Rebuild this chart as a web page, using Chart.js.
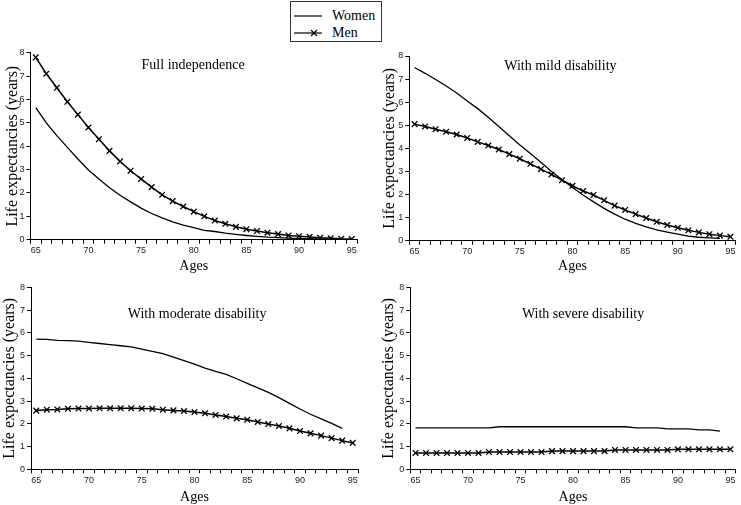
<!DOCTYPE html>
<html>
<head>
<meta charset="utf-8">
<script src="https://cdn.jsdelivr.net/npm/chart.js@4.4.1/dist/chart.umd.min.js"></script>
<style>
  html, body { margin: 0; padding: 0; background: #fff; overflow: hidden; }
  body { width: 741px; height: 505px; position: relative; }
  .panel { position: absolute; }
  #legend { position: absolute; left: 290px; top: 1px; width: 92px; height: 41px;
            border: 1px solid #333; box-sizing: border-box; background: #fff;
            font-family: 'Liberation Serif', 'Times New Roman', serif; font-size: 14px; color: #000; }
  #legend .row { position: absolute; left: 0; height: 16px; line-height: 16px; }
  #legend .lbl { position: absolute; left: 41px; top: 0; white-space: nowrap; }
  #legend svg { position: absolute; left: 3px; top: 0; }
</style>
</head>
<body>
<div id="legend">
  <div class="row" style="top:6px;"><svg width="30" height="16"><line x1="0" y1="8" x2="28" y2="8" stroke="#000" stroke-width="1.2"/></svg><span class="lbl">Women</span></div>
  <div class="row" style="top:23px;"><svg width="30" height="16"><line x1="0" y1="8" x2="28" y2="8" stroke="#000" stroke-width="1.2"/><line x1="17" y1="5" x2="23" y2="11" stroke="#000" stroke-width="1.2"/><line x1="17" y1="11" x2="23" y2="5" stroke="#000" stroke-width="1.2"/></svg><span class="lbl">Men</span></div>
</div>
<div class="panel" style="left:0px;top:40px;"><canvas id="c1" width="365" height="235"></canvas></div>
<div class="panel" style="left:372px;top:40px;"><canvas id="c2" width="369" height="235"></canvas></div>
<div class="panel" style="left:0px;top:275px;"><canvas id="c3" width="365" height="232"></canvas></div>
<div class="panel" style="left:372px;top:275px;"><canvas id="c4" width="369" height="232"></canvas></div>
<script>
// ---- data ----
const ages = [65,66,67,68,69,70,71,72,73,74,75,76,77,78,79,80,81,82,83,84,85,86,87,88,89,90,91,92,93,94,95];
const yTicks = [0,1,2,3,4,5,6,7,8];
const panelTitles = ['Full independence', 'With mild disability', 'With moderate disability', 'With severe disability'];
const seriesNames = ['Women', 'Men'];

const fullWomen = [5.65,5.0,4.45,3.95,3.45,2.98,2.6,2.22,1.9,1.62,1.35,1.12,0.93,0.76,0.62,0.52,0.4,0.35,0.28,0.23,0.18,0.14,0.11,0.09,0.07,0.05,0.04,0.03,0.02,0.02,null];
const fullMen   = [7.8,7.1,6.5,5.9,5.35,4.8,4.3,3.8,3.35,2.95,2.6,2.25,1.92,1.65,1.42,1.2,1.0,0.82,0.68,0.55,0.45,0.37,0.3,0.24,0.18,0.15,0.12,0.08,0.06,0.04,0.03];

const mildWomen = [7.5,7.25,6.98,6.7,6.4,6.05,5.72,5.35,4.95,4.55,4.15,3.78,3.4,3.0,2.65,2.3,1.98,1.68,1.4,1.15,0.93,0.75,0.6,0.47,0.37,0.28,0.2,0.15,0.12,0.1,null];
const mildMen   = [5.05,4.95,4.83,4.72,4.6,4.45,4.28,4.12,3.95,3.75,3.55,3.33,3.1,2.87,2.62,2.38,2.15,1.98,1.75,1.52,1.33,1.15,0.98,0.82,0.68,0.56,0.45,0.36,0.28,0.22,0.17];

const moderateWomen = [5.72,5.71,5.67,5.66,5.63,5.58,5.53,5.48,5.43,5.38,5.28,5.18,5.08,4.93,4.78,4.62,4.45,4.3,4.17,3.98,3.78,3.58,3.38,3.15,2.9,2.65,2.42,2.22,2.02,1.8,null];
const moderateMen   = [2.58,2.62,2.63,2.66,2.67,2.67,2.68,2.68,2.68,2.68,2.67,2.66,2.62,2.59,2.56,2.52,2.46,2.39,2.32,2.24,2.18,2.08,1.99,1.9,1.8,1.68,1.58,1.48,1.37,1.26,1.16];

const severeWomen = [1.82,1.82,1.82,1.82,1.82,1.82,1.82,1.82,1.87,1.87,1.87,1.87,1.87,1.87,1.87,1.87,1.87,1.87,1.87,1.87,1.87,1.82,1.82,1.82,1.78,1.78,1.78,1.73,1.73,1.68,null];
const severeMen   = [0.72,0.72,0.72,0.72,0.72,0.72,0.72,0.76,0.76,0.76,0.76,0.76,0.76,0.8,0.8,0.8,0.8,0.8,0.8,0.85,0.85,0.85,0.85,0.85,0.85,0.88,0.88,0.88,0.88,0.88,0.88];

// ---- layout per panel (canvas-relative) ----
const panels = [
  { id:'c1', women: fullWomen,     men: fullMen,     title: panelTitles[0], yW: 30.5, yTitlePad: 3.2, padTop: 12.7, padRight: 8, xH: 35.3, agesPad: 0.6, tFrac: 0.498, tDy: 12.3 },
  { id:'c2', women: mildWomen,     men: mildMen,     title: panelTitles[1], yW: 37.3, yTitlePad: 8.4, padTop: 16,   padRight: 4, xH: 34.3, agesPad: 0.6, tFrac: 0.463, tDy: 10.7 },
  { id:'c3', women: moderateWomen, men: moderateMen, title: panelTitles[2], yW: 31,   yTitlePad: 0.1, padTop: 12.3, padRight: 7, xH: 37.7, agesPad: 0.9, tFrac: 0.508, tDy: 27 },
  { id:'c4', women: severeWomen,   men: severeMen,   title: panelTitles[3], yW: 38.3, yTitlePad: 6.7, padTop: 12.3, padRight: 3, xH: 37.7, agesPad: 0.9, tFrac: 0.531, tDy: 27.3 }
];

const inPlotTitle = {
  id: 'inPlotTitle',
  afterDraw(chart, args, opts) {
    const ca = chart.chartArea, ctx = chart.ctx;
    ctx.save();
    ctx.font = '14px "Liberation Serif", "Times New Roman", serif';
    ctx.fillStyle = '#000';
    ctx.textAlign = 'center';
    ctx.textBaseline = 'middle';
    ctx.fillText(opts.text, ca.left + opts.frac * (ca.right - ca.left), ca.top + opts.dy);
    ctx.restore();
  }
};

const tickFont = { family: '"Liberation Sans", Arial, sans-serif', size: 9 };
const serif = '"Liberation Serif", "Times New Roman", serif';

panels.forEach(p => {
  new Chart(document.getElementById(p.id), {
    type: 'line',
    data: {
      labels: ages,
      datasets: [
        { label: seriesNames[0], data: p.women, borderColor: '#000', borderWidth: 1.3, pointRadius: 0, tension: 0, fill: false, spanGaps: false },
        { label: seriesNames[1], data: p.men, borderColor: '#000', borderWidth: 1.5, pointStyle: 'crossRot', pointRadius: 4, pointBorderColor: '#000', pointBorderWidth: 1.3, pointBackgroundColor: '#000', tension: 0, fill: false }
      ]
    },
    plugins: [inPlotTitle],
    options: {
      responsive: false,
      animation: false,
      events: [],
      layout: { padding: { left: 0, top: p.padTop, right: p.padRight, bottom: 0 } },
      plugins: {
        legend: { display: false },
        tooltip: { enabled: false },
        inPlotTitle: { text: p.title, frac: p.tFrac, dy: p.tDy }
      },
      scales: {
        x: {
          type: 'category',
          offset: true,
          border: { display: true, color: '#000', width: 1 },
          grid: { display: true, offset: true, drawOnChartArea: false, drawTicks: true, tickLength: 4, color: '#000', lineWidth: 1 },
          ticks: {
            autoSkip: false, maxRotation: 0, minRotation: 0, padding: 1.5,
            font: tickFont, color: '#222',
            callback: (v, i) => (ages[i] % 5 === 0 ? String(ages[i]) : '')
          },
          title: { display: true, text: 'Ages', color: '#000', font: { family: serif, size: 14 }, padding: { top: 0, bottom: p.agesPad } },
          afterFit: s => { s.height = p.xH; }
        },
        y: {
          min: 0, max: 8,
          afterBuildTicks: s => { s.ticks = yTicks.map(v => ({ value: v })); },
          border: { display: true, color: '#000', width: 1 },
          grid: { display: true, drawOnChartArea: false, drawTicks: true, tickLength: 4, color: '#000', lineWidth: 1 },
          ticks: { padding: 2, font: tickFont, color: '#222' },
          title: { display: true, text: 'Life expectancies (years)', color: '#000', font: { family: serif, size: 16 }, padding: { top: p.yTitlePad, bottom: 0 } },
          afterFit: s => { s.width = p.yW; }
        }
      }
    }
  });
});
</script>
</body>
</html>
